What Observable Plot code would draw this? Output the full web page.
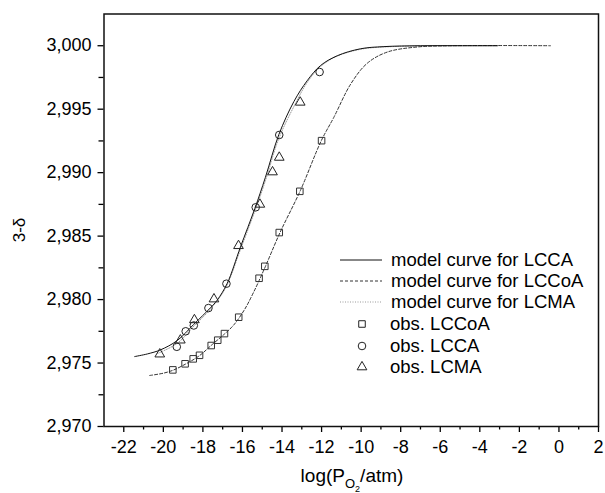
<!DOCTYPE html>
<html><head><meta charset="utf-8">
<script src="https://cdn.jsdelivr.net/npm/d3@7"></script>
<script src="https://cdn.jsdelivr.net/npm/@observablehq/plot@0.6"></script>
<style>
html,body{margin:0;padding:0;background:#fff;}
#chart{width:605px;height:493px;overflow:hidden;}
</style></head><body><div id="chart"></div>
<script>
// ---- model curves ----
const lccaCurveX = [-21.45, -20.8, -20.14, -19.3, -18.46, -17.62, -17.28, -16.77, -16.10, -15.38, -14.84, -14.16, -13.40, -12.73, -12.06, -11.21, -10.03, -8.85, -7.0, -5.0, -3.1];
const lccaCurveY = [2.97551, 2.97572, 2.97604, 2.97677, 2.97805, 2.97935, 2.97995, 2.98128, 2.98415, 2.98715, 2.98963, 2.99300, 2.99560, 2.99724, 2.99843, 2.99921, 2.99976, 2.99993, 3.0000, 3.0000, 3.0000];

const lccoaCurveX = [-20.69, -20.0, -19.5, -18.9, -18.2, -17.5, -16.9, -16.44, -15.9, -15.43, -14.87, -14.11, -13.07, -12.02, -11.38, -10.52, -9.69, -8.68, -7.17, -5.48, -0.43];
const lccoaCurveY = [2.97402, 2.97420, 2.97444, 2.97490, 2.97555, 2.97650, 2.97730, 2.97800, 2.97920, 2.98060, 2.98250, 2.98525, 2.98860, 2.99250, 2.99436, 2.99700, 2.99862, 2.99950, 2.99990, 3.0000, 3.0000];

const lcmaCurveX = [-20.3, -19.3, -18.46, -17.62, -16.86, -16.10, -15.38, -14.84, -14.16, -13.32, -12.73, -12.06, -11.21, -10.03, -8.85, -6.0, -3.1];
const lcmaCurveY = [2.97575, 2.97655, 2.97790, 2.97925, 2.98090, 2.98395, 2.98695, 2.98935, 2.99270, 2.99545, 2.99710, 2.99835, 2.99918, 2.99972, 2.99990, 3.0000, 3.0000];

// ---- observations ----
const obsLCCoAX = [-19.52, -18.90, -18.49, -18.17, -17.58, -17.25, -16.91, -16.19, -15.16, -14.87, -14.14, -13.10, -12.00];
const obsLCCoAY = [2.97446, 2.97494, 2.97533, 2.97561, 2.97638, 2.97680, 2.97732, 2.97861, 2.98168, 2.98262, 2.98528, 2.98853, 2.99252];

const obsLCCAX = [-19.32, -18.87, -18.46, -17.72, -16.81, -15.33, -14.14, -12.10];
const obsLCCAY = [2.97628, 2.97750, 2.97796, 2.97933, 2.98125, 2.98727, 2.99297, 2.99793];

const obsLCMAX = [-20.18, -19.14, -18.43, -17.44, -16.20, -15.12, -14.48, -14.14, -13.08];
const obsLCMAY = [2.97570, 2.97680, 2.97840, 2.98004, 2.98424, 2.98750, 2.99005, 2.99120, 2.99554];

// ---- ticks ----
const xMajorTicks = [-22, -20, -18, -16, -14, -12, -10, -8, -6, -4, -2, 0, 2];
const xMinorTicks = [-21, -19, -17, -15, -13, -11, -9, -7, -5, -3, -1, 1];
const yMajorTicks = [2.970, 2.975, 2.980, 2.985, 2.990, 2.995, 3.000];
const yMinorTicks = [2.9725, 2.9775, 2.9825, 2.9875, 2.9925, 2.9975];

const legendLabels = ["model curve for LCCA", "model curve for LCCoA", "model curve for LCMA", "obs. LCCoA", "obs. LCCA", "obs. LCMA"];

const zip = (xs, ys) => xs.map((x, i) => ({x, y: ys[i]}));
const lcca = zip(lccaCurveX, lccaCurveY);
const lccoa = zip(lccoaCurveX, lccoaCurveY);
const lcma = zip(lcmaCurveX, lcmaCurveY);
const oCo = zip(obsLCCoAX, obsLCCoAY);
const oCA = zip(obsLCCAX, obsLCCAY);
const oMA = zip(obsLCMAX, obsLCMAY);

const FONT = "'Liberation Sans', Arial, sans-serif";

const plot = Plot.plot({
  width: 605, height: 493,
  marginLeft: 103.5, marginRight: 7, marginTop: 13.5, marginBottom: 67,
  style: {fontFamily: FONT, fontSize: "18px", color: "#000", background: "#fff", overflow: "visible"},
  x: {domain: [-23, 2]},
  y: {domain: [2.970, 3.0025]},
  marks: [
    Plot.line(lcma, {x: "x", y: "y", stroke: "#9a9a9a", strokeWidth: 1, strokeDasharray: "1,1.5", curve: "catmull-rom"}),
    Plot.line(lccoa, {x: "x", y: "y", stroke: "#333", strokeWidth: 1, strokeDasharray: "3,2", curve: "catmull-rom"}),
    Plot.line(lcca, {x: "x", y: "y", stroke: "#111", strokeWidth: 1, curve: "catmull-rom"}),
    Plot.dot(oCo, {x: "x", y: "y", symbol: "square", r: 3.7, stroke: "#333", fill: "none", strokeWidth: 1}),
    Plot.dot(oCA, {x: "x", y: "y", symbol: "circle", r: 3.8, stroke: "#222", fill: "none", strokeWidth: 1}),
    Plot.dot(oMA, {x: "x", y: "y", symbol: "triangle", r: 3.6, stroke: "#222", fill: "none", strokeWidth: 1}),
    Plot.axisX({ticks: xMajorTicks, tickSize: 6, tickPadding: 8, strokeWidth: 1.3, tickFormat: d => String(d), label: null}),
    Plot.axisX({ticks: xMinorTicks, tickSize: 3.5, strokeWidth: 1.3, tickFormat: () => "", label: null}),
    Plot.axisY({ticks: yMajorTicks, tickSize: 6, tickPadding: 6.5, strokeWidth: 1.3, tickFormat: d => d.toFixed(3).replace(".", ","), label: null}),
    Plot.axisY({ticks: yMinorTicks, tickSize: 5, strokeWidth: 1.3, tickFormat: () => "", label: null}),
    Plot.frame({stroke: "#111", strokeWidth: 1.5})
  ]
});
document.getElementById("chart").appendChild(plot);

// ---- titles and legend ----
const svg = d3.select(plot);
const ann = svg.append("g").attr("font-family", FONT).attr("fill", "#000");

const xt = ann.append("text").attr("x", 352).attr("y", 482).attr("text-anchor", "middle").attr("font-size", 19);
xt.append("tspan").text("log(P");
xt.append("tspan").attr("dy", 6).attr("font-size", 13).text("O");
xt.append("tspan").attr("dy", 4).attr("font-size", 9).text("2");
xt.append("tspan").attr("dy", -10).text("/atm)");

ann.append("text").attr("transform", "translate(25,230) rotate(-90)")
  .attr("text-anchor", "middle").attr("font-size", 17).text("3-\u03B4");

const leg = ann.append("g").attr("font-size", 18.5).attr("text-anchor", "start");
const lineRows = [
  {y: 260, stroke: "#111", dash: null},
  {y: 281, stroke: "#333", dash: "3,2"},
  {y: 302, stroke: "#9a9a9a", dash: "1,1.5"}
];
lineRows.forEach((r, i) => {
  leg.append("line").attr("x1", 340).attr("x2", 382).attr("y1", r.y).attr("y2", r.y)
    .attr("stroke", r.stroke).attr("stroke-width", 1).attr("stroke-dasharray", r.dash);
  leg.append("text").attr("x", 391).attr("y", r.y).attr("dy", "0.35em").attr("text-anchor", "start").text(legendLabels[i]);
});
const symRows = [
  {y: 324, sym: d3.symbolSquare, r: 3.7},
  {y: 346, sym: d3.symbolCircle, r: 3.8},
  {y: 367, sym: d3.symbolTriangle, r: 3.6}
];
symRows.forEach((r, i) => {
  leg.append("path").attr("d", d3.symbol(r.sym, Math.PI * r.r * r.r)())
    .attr("transform", `translate(362,${r.y})`).attr("fill", "none").attr("stroke", "#222").attr("stroke-width", 1);
  leg.append("text").attr("x", 390).attr("y", r.y).attr("dy", "0.35em").attr("text-anchor", "start").text(legendLabels[3 + i]);
});
</script>
</body></html>
